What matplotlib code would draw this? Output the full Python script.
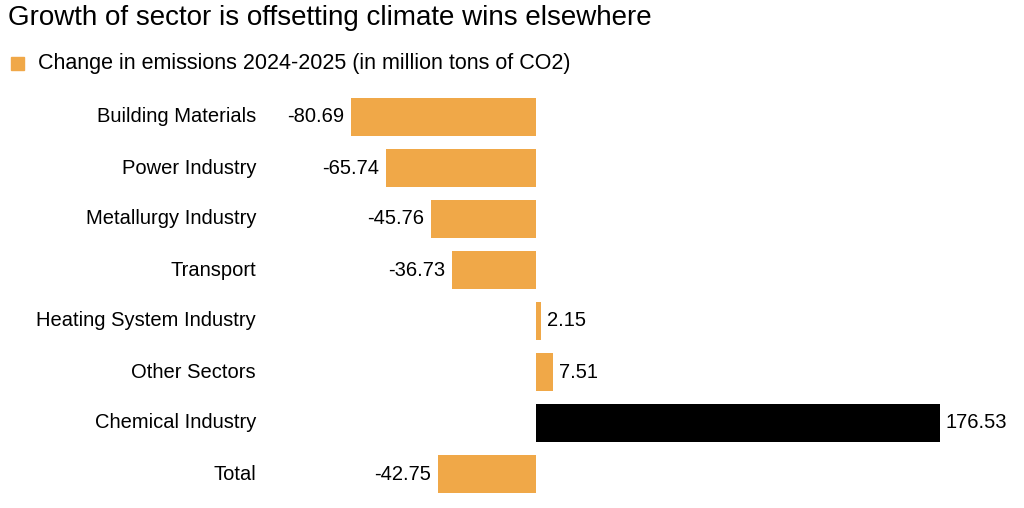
import matplotlib
matplotlib.use('Agg')
import matplotlib.pyplot as plt
from matplotlib.patches import Rectangle

sectors = ['Building Materials', 'Power Industry', 'Metallurgy Industry', 'Transport',
           'Heating System Industry', 'Other Sectors', 'Chemical Industry', 'Total']
changes = [-80.69, -65.74, -45.76, -36.73, 2.15, 7.51, 176.53, -42.75]
colors = ['#F0A848'] * 6 + ['#000000', '#F0A848']

plt.rcParams['font.family'] = ['Liberation Sans', 'DejaVu Sans']

W, H = 1024, 508
fig = plt.figure(figsize=(W / 100, H / 100), dpi=100)
ax = fig.add_axes([338 / W, 8.5 / H, 624 / W, 408 / H])

y = list(range(len(sectors)))
ax.barh(y, changes, height=0.75, color=colors)
ax.set_xlim(-86.5, 186.1)
ax.set_ylim(len(sectors) - 0.5, -0.5)
ax.axis('off')

for yi, v in zip(y, changes):
    if v < 0:
        ax.text(v - 3.0, yi, f'{v:.2f}', ha='right', va='center', fontsize=14.5)
    else:
        ax.text(v + 2.5, yi, f'{v:.2f}', ha='left', va='center', fontsize=14.5)
    fig.text(256 / W, 1 - (117 + 51 * yi) / H, sectors[yi], ha='right', va='center',
             fontsize=14.5)

fig.text(8 / W, 1 - 18 / H, 'Growth of sector is offsetting climate wins elsewhere',
         ha='left', va='center', fontsize=20)
fig.patches.append(Rectangle((11 / W, 1 - 70 / H), 13 / W, 13 / H, color='#F0A848',
                             transform=fig.transFigure, figure=fig))
fig.text(38 / W, 1 - 63 / H, 'Change in emissions 2024-2025 (in million tons of CO2)',
         ha='left', va='center', fontsize=15.5)

fig.savefig('out.png', dpi=100)
